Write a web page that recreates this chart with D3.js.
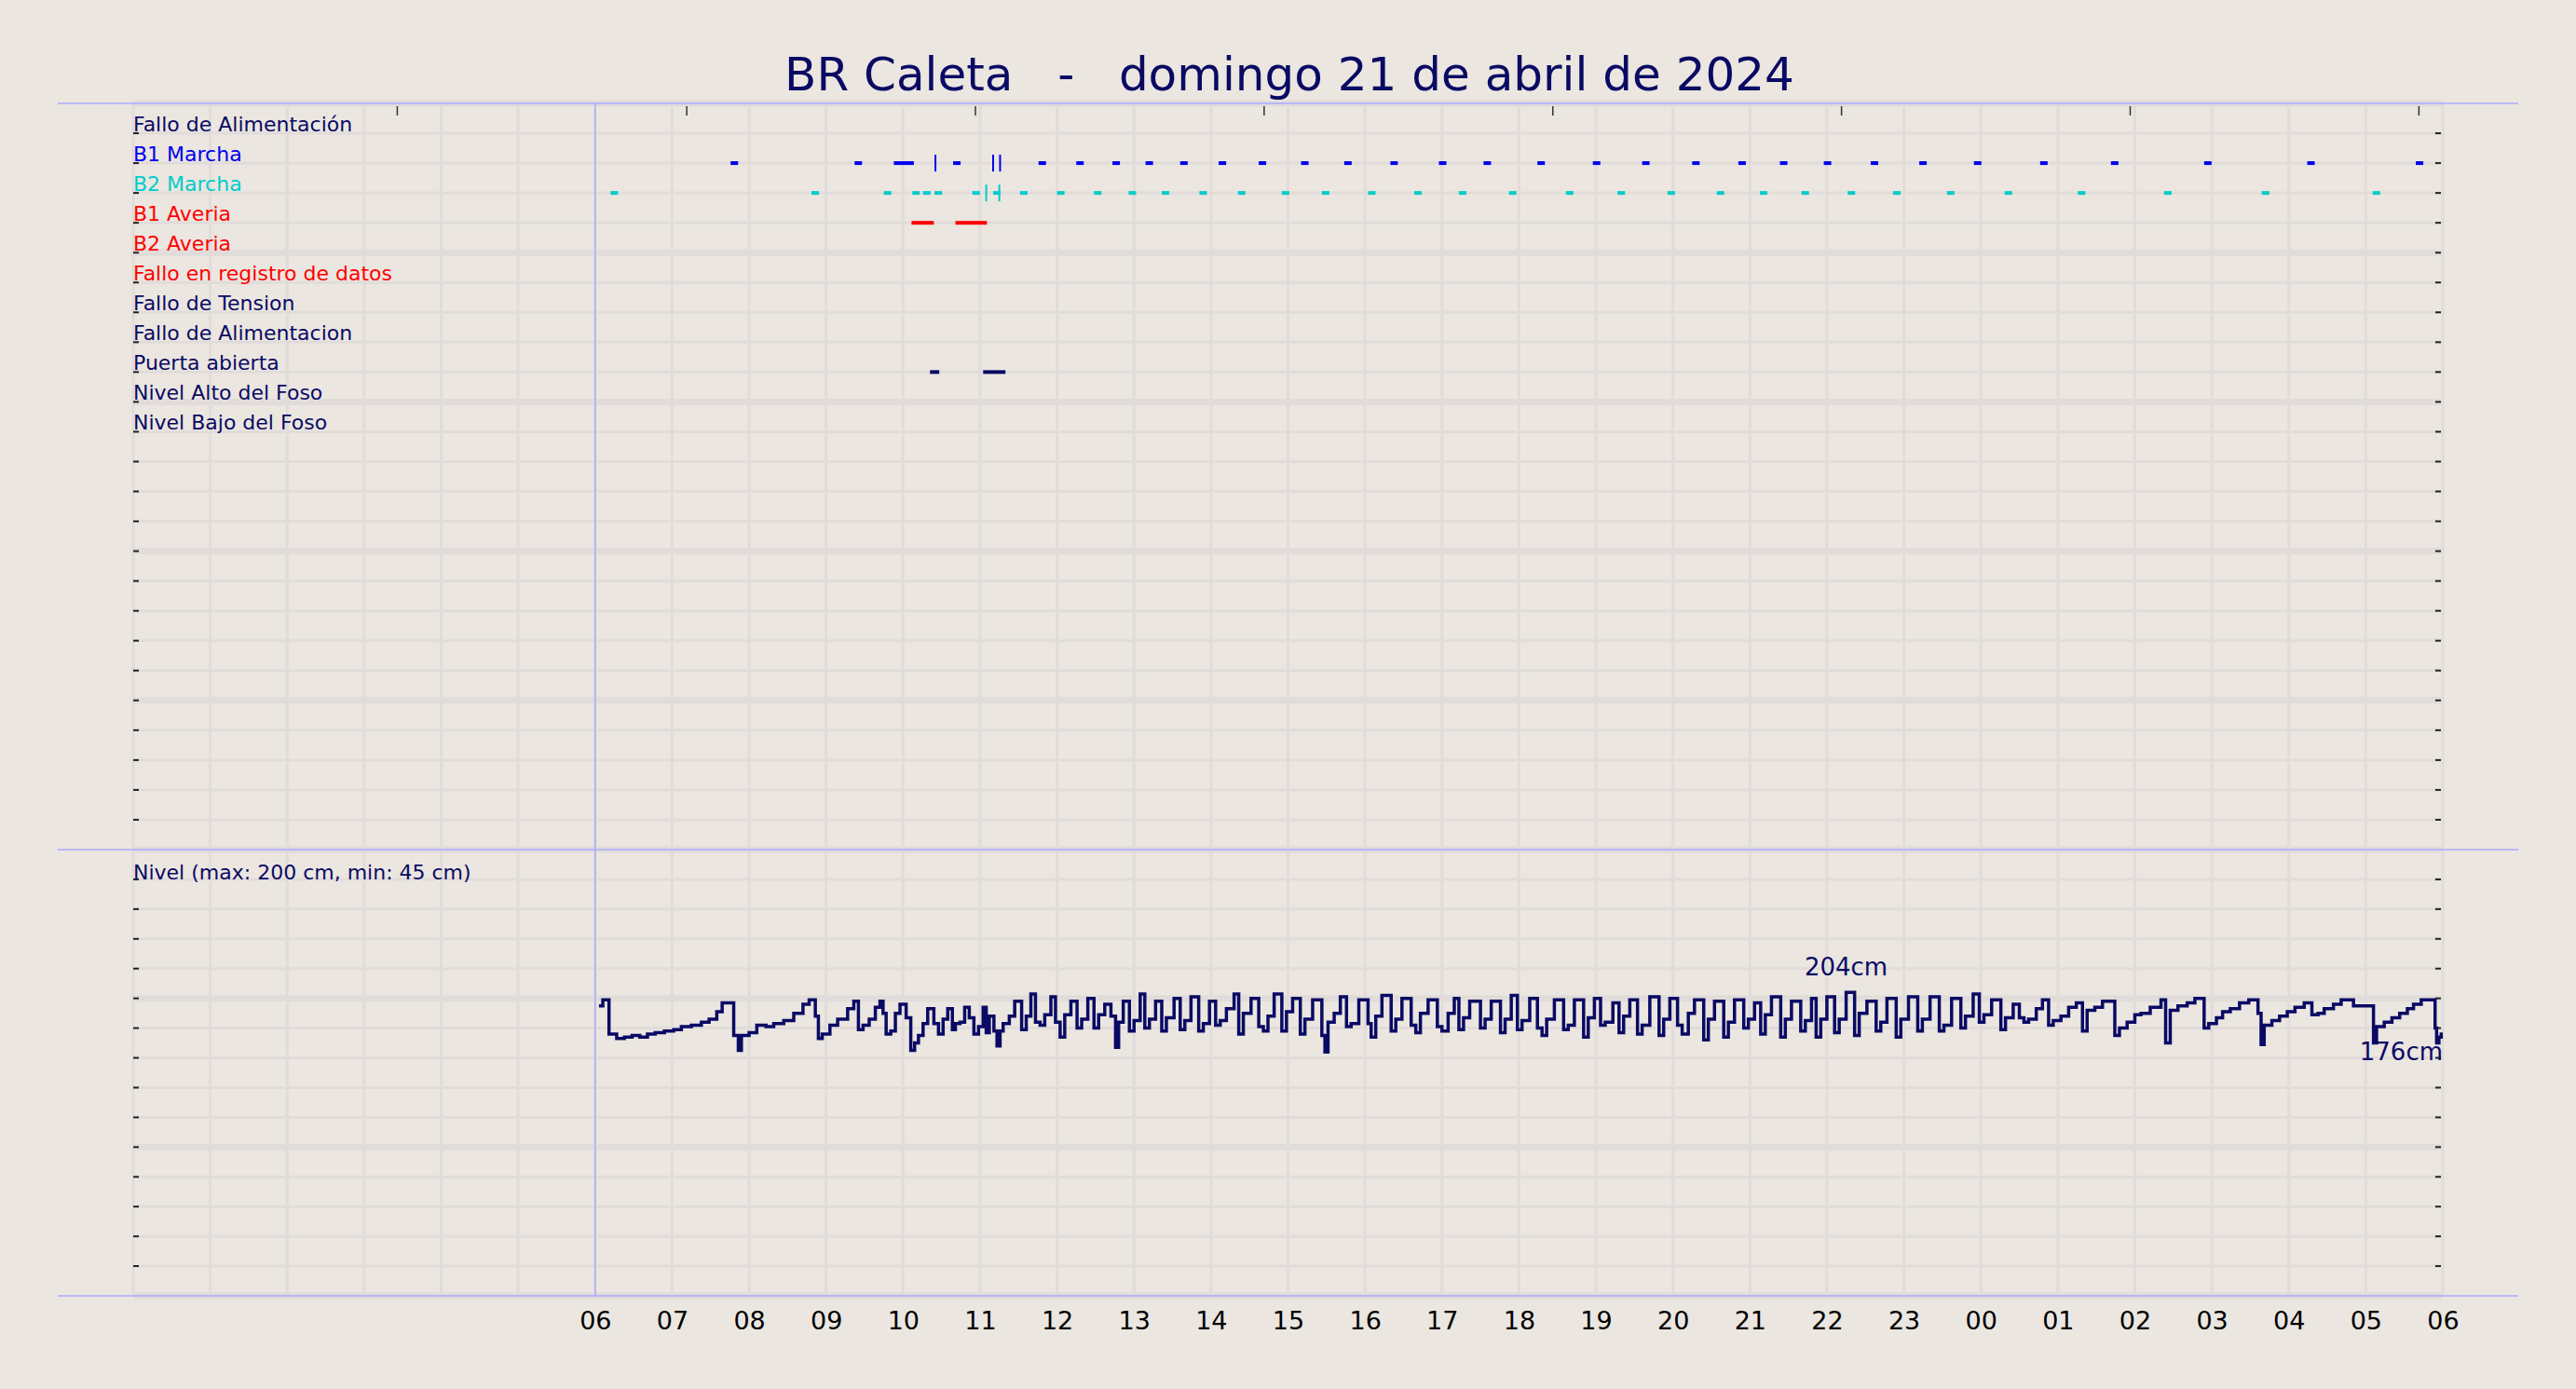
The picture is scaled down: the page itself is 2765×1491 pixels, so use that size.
<!DOCTYPE html>
<html>
<head>
<meta charset="utf-8">
<script src="https://cdn.jsdelivr.net/npm/d3@7"></script>
<style>
  body { margin: 0; background: #ebe6e0; }
  text { font-family: "DejaVu Sans", sans-serif; }
</style>
</head>
<body>
<svg id="chart" width="2765" height="1491"></svg>
<script>
// channel labels, top panel (row 1 = top)
const channels = ["Fallo de Alimentación", "B1 Marcha", "B2 Marcha", "B1 Averia", "B2 Averia",
  "Fallo en registro de datos", "Fallo de Tension", "Fallo de Alimentacion", "Puerta abierta",
  "Nivel Alto del Foso", "Nivel Bajo del Foso"];
const channelColors = ["#0a0a64", "#0000ee", "#00cccc", "#ff0000", "#ff0000", "#ff0000",
  "#0a0a64", "#0a0a64", "#0a0a64", "#0a0a64", "#0a0a64"];

// hour labels (hours from 00:00 of 21 April)
const hourTicks = d3.range(6, 31);
const hourLabels = ["06","07","08","09","10","11","12","13","14","15","16","17","18","19","20","21","22","23","00","01","02","03","04","05","06"];
const topTicks = [3.43, 7.19, 10.94, 14.69, 18.44, 22.19, 25.94, 29.69];

// events: [start hour, end hour]
const b1Marcha = [[7.76,7.84],[9.37,9.44],[9.88,10.14],[10.65,10.70],[11.76,11.81],[12.25,12.30],[12.72,12.77],
  [13.15,13.20],[13.60,13.65],[14.10,14.15],[14.62,14.68],[15.17,15.23],[15.73,15.79],[16.33,16.39],[16.96,17.02],
  [17.54,17.60],[18.24,18.30],[18.96,19.02],[19.60,19.66],[20.25,20.31],[20.85,20.91],[21.39,21.45],[21.96,22.02],
  [22.57,22.63],[23.20,23.26],[23.91,23.97],[24.77,24.83],[25.69,25.75],[26.90,26.95],[28.24,28.30],[29.65,29.71]];
const b1Pulses = [10.42, 11.17, 11.26];
const b2Marcha = [[6.20,6.24],[8.81,8.85],[9.75,9.81],[10.12,10.15],[10.26,10.31],[10.41,10.44],[10.90,10.94],
  [11.17,11.20],[11.52,11.56],[12.00,12.06],[12.48,12.54],[12.93,12.98],[13.36,13.42],[13.85,13.90],[14.35,14.41],
  [14.92,14.97],[15.44,15.50],[16.04,16.10],[16.64,16.70],[17.22,17.28],[17.87,17.93],[18.61,18.66],[19.28,19.33],
  [19.93,19.99],[20.57,20.63],[21.13,21.19],[21.67,21.73],[22.27,22.33],[22.86,22.93],[23.56,23.62],[24.31,24.37],
  [25.26,25.30],[26.38,26.44],[27.65,27.69],[29.09,29.13]];
const b2Pulses = [11.08, 11.25];
const b1Averia = [[10.11,10.40],[10.68,11.09]];
const puertaAbierta = [[10.35,10.47],[11.04,11.33]];

// level (cm): [hour, value], stepped
const nivel = [[6.05,195],[6.10,199],[6.18,176],[6.28,173],[6.38,174],[6.48,175],[6.58,174],[6.68,176],[6.78,177],
  [6.90,178],[7.02,179],[7.12,181],[7.25,182],[7.38,184],[7.48,186],[7.58,191],[7.65,197],[7.75,197],[7.80,175],
  [7.86,165],[7.90,175],[8.00,177],[8.10,182],[8.22,181],[8.32,183],[8.45,185],[8.58,190],[8.70,196],[8.78,199],
  [8.86,188],[8.90,173],[8.95,176],[9.05,182],[9.15,186],[9.28,193],[9.36,198],[9.42,179],[9.48,182],[9.56,186],
  [9.64,194],[9.70,198],[9.74,190],[9.78,176],[9.84,178],[9.90,190],[9.96,196],[10.04,187],[10.10,165],[10.15,170],
  [10.20,175],[10.26,183],[10.32,193],[10.40,183],[10.46,176],[10.52,186],[10.58,193],[10.64,179],[10.68,183],
  [10.74,184],[10.80,194],[10.86,187],[10.92,176],[10.98,181],[11.04,194],[11.08,177],[11.12,188],[11.18,178],
  [11.22,168],[11.26,178],[11.30,183],[11.38,188],[11.45,198],[11.54,179],[11.60,188],[11.66,203],[11.72,184],
  [11.78,182],[11.84,189],[11.92,201],[11.98,184],[12.04,174],[12.10,189],[12.18,198],[12.26,180],[12.32,186],
  [12.40,200],[12.48,180],[12.54,189],[12.62,196],[12.70,188],[12.76,167],[12.80,184],[12.86,198],[12.94,178],
  [13.00,185],[13.08,203],[13.14,180],[13.20,186],[13.28,198],[13.36,178],[13.42,187],[13.52,200],[13.60,179],
  [13.66,185],[13.74,201],[13.84,178],[13.90,183],[13.98,198],[14.06,182],[14.12,185],[14.20,193],[14.30,203],
  [14.36,176],[14.42,190],[14.52,200],[14.62,181],[14.68,178],[14.74,188],[14.82,203],[14.92,178],[14.98,191],
  [15.06,200],[15.16,176],[15.22,186],[15.32,199],[15.44,175],[15.48,164],[15.52,184],[15.60,190],[15.68,201],
  [15.76,181],[15.82,183],[15.92,199],[16.04,183],[16.08,174],[16.14,188],[16.22,202],[16.34,178],[16.40,186],
  [16.48,200],[16.60,182],[16.66,177],[16.72,190],[16.82,199],[16.94,181],[17.00,178],[17.08,190],[17.16,200],
  [17.22,179],[17.28,187],[17.36,198],[17.50,180],[17.56,186],[17.64,198],[17.76,177],[17.82,186],[17.90,202],
  [17.98,179],[18.04,185],[18.14,200],[18.24,180],[18.30,175],[18.36,186],[18.46,199],[18.58,179],[18.64,182],
  [18.72,199],[18.84,174],[18.90,187],[18.98,200],[19.06,182],[19.12,184],[19.22,197],[19.30,177],[19.36,188],
  [19.44,199],[19.54,176],[19.60,182],[19.70,201],[19.82,175],[19.88,186],[19.96,200],[20.06,182],[20.12,176],
  [20.20,190],[20.28,199],[20.40,172],[20.46,186],[20.54,198],[20.66,174],[20.72,184],[20.80,199],[20.92,180],
  [20.98,186],[21.06,197],[21.14,176],[21.20,189],[21.28,201],[21.40,174],[21.46,186],[21.54,198],[21.66,178],
  [21.72,185],[21.80,200],[21.86,174],[21.92,186],[22.00,201],[22.10,177],[22.16,186],[22.25,204],[22.36,175],
  [22.42,190],[22.52,198],[22.64,178],[22.70,184],[22.78,200],[22.90,174],[22.96,186],[23.06,201],[23.18,178],
  [23.24,186],[23.34,201],[23.46,178],[23.52,182],[23.62,200],[23.74,180],[23.80,188],[23.90,203],[23.98,184],
  [24.04,189],[24.14,199],[24.26,179],[24.32,187],[24.42,196],[24.50,187],[24.56,184],[24.62,186],[24.72,193],
  [24.80,199],[24.88,182],[24.94,185],[25.04,188],[25.14,194],[25.24,197],[25.32,178],[25.38,192],[25.48,194],
  [25.58,198],[25.66,198],[25.74,175],[25.80,180],[25.90,184],[26.00,189],[26.08,190],[26.20,194],[26.34,199],
  [26.40,170],[26.46,192],[26.56,195],[26.68,197],[26.78,200],[26.90,180],[26.96,183],[27.06,187],[27.14,191],
  [27.24,193],[27.36,197],[27.48,199],[27.60,190],[27.64,169],[27.68,182],[27.78,185],[27.88,188],[27.98,191],
  [28.08,194],[28.20,197],[28.30,189],[28.38,190],[28.46,193],[28.58,196],[28.68,199],[28.76,199],[28.84,195],
  [29.10,170],[29.14,181],[29.24,184],[29.34,187],[29.44,190],[29.54,193],[29.62,196],[29.72,199],[29.82,199],
  [29.90,180],[29.92,170],[29.95,174],[29.98,176],[30.00,176]];
const peakLabel = [22.25, 204];
const endLabel = [30.00, 176];

const svg = d3.select("#chart");
const W = 2765, H = 1491;
const gridColor = "#e1dcda", frameColor = "#aaaaff", navy = "#0a0a64";

const x = d3.scaleLinear().domain([0, 30]).range([143, 2622]);
const yTop = d3.scaleLinear().domain([0, 25]).range([111, 912]);
const yBot = d3.scaleLinear().domain([300, 0]).range([912, 1391]);

// title
svg.append("text").attr("x", 1384).attr("y", 97).attr("text-anchor", "middle")
  .attr("font-size", 50).attr("fill", navy)
  .attr("xml:space", "preserve")
  .text("BR Caleta   -   domingo 21 de abril de 2024");

const g = svg.append("g");

// vertical hourly grid
g.selectAll("line.vg").data(d3.range(0, 31)).join("line")
  .attr("x1", d => x(d)).attr("x2", d => x(d))
  .attr("y1", 111).attr("y2", 1391)
  .attr("stroke", gridColor).attr("stroke-width", 3);

// horizontal grid, top panel
g.selectAll("line.ht").data(d3.range(0, 26)).join("line")
  .attr("x1", x(0)).attr("x2", x(30))
  .attr("y1", d => yTop(d)).attr("y2", d => yTop(d))
  .attr("stroke", gridColor).attr("stroke-width", d => d % 5 === 0 ? 7 : 3);

// horizontal grid, bottom panel
g.selectAll("line.hb").data(d3.range(0, 301, 20)).join("line")
  .attr("x1", x(0)).attr("x2", x(30))
  .attr("y1", d => yBot(d)).attr("y2", d => yBot(d))
  .attr("stroke", gridColor).attr("stroke-width", d => d % 100 === 0 ? 7 : 3);

// frame lines
[111, 912, 1391].forEach(yy => {
  g.append("line").attr("x1", 62).attr("x2", 2703).attr("y1", yy).attr("y2", yy)
    .attr("stroke", frameColor).attr("stroke-width", 1.5);
});
g.append("line").attr("x1", x(6)).attr("x2", x(6)).attr("y1", 111).attr("y2", 1391)
  .attr("stroke", frameColor).attr("stroke-width", 1.5);

// small tick dashes left & right
const rowTicks = d3.range(1, 25).map(d => yTop(d)).concat(d3.range(20, 300, 20).map(d => yBot(d)));
g.selectAll("line.lt").data(rowTicks).join("line")
  .attr("x1", x(0)).attr("x2", x(0) + 6).attr("y1", d => d).attr("y2", d => d)
  .attr("stroke", "#222").attr("stroke-width", 2);
g.selectAll("line.rt").data(rowTicks).join("line")
  .attr("x1", x(30) - 8).attr("x2", x(30) - 2).attr("y1", d => d).attr("y2", d => d)
  .attr("stroke", "#222").attr("stroke-width", 2);

// top small ticks
g.selectAll("line.tt").data(topTicks).join("line")
  .attr("x1", d => x(d)).attr("x2", d => x(d)).attr("y1", 114).attr("y2", 124)
  .attr("stroke", "#333").attr("stroke-width", 1.5);

// channel labels
g.selectAll("text.ch").data(channels).join("text")
  .attr("x", x(0)).attr("y", (d, i) => yTop(i + 1) - 2)
  .attr("font-size", 22).attr("fill", (d, i) => channelColors[i])
  .text(d => d);

// event bars
function drawBars(data, row, color, h) {
  g.selectAll(null).data(data).join("rect")
    .attr("x", d => x(d[0])).attr("width", d => Math.max(8, x(d[1]) - x(d[0])))
    .attr("y", yTop(row) - h / 2).attr("height", h)
    .attr("fill", color);
}
function drawPulses(data, row, color) {
  g.selectAll(null).data(data).join("line")
    .attr("x1", d => x(d)).attr("x2", d => x(d))
    .attr("y1", yTop(row) - 9).attr("y2", yTop(row) + 9)
    .attr("stroke", color).attr("stroke-width", 2);
}
drawBars(b1Marcha, 2, "#0000ee", 4);
drawPulses(b1Pulses, 2, "#0000ee");
drawBars(b2Marcha, 3, "#00cccc", 4);
drawPulses(b2Pulses, 3, "#00cccc");
drawBars(b1Averia, 4, "#ff0000", 4);
drawBars(puertaAbierta, 9, navy, 4);

// level panel
g.append("text").attr("x", x(0)).attr("y", 944).attr("font-size", 22).attr("fill", navy)
  .text("Nivel (max: 200 cm, min: 45 cm)");

const line = d3.line().x(d => x(d[0])).y(d => yBot(d[1])).curve(d3.curveStepAfter);
g.append("path").datum(nivel).attr("d", line)
  .attr("fill", "none").attr("stroke", navy).attr("stroke-width", 3.5);

g.append("text").attr("x", x(peakLabel[0])).attr("y", yBot(peakLabel[1]) - 18)
  .attr("text-anchor", "middle").attr("font-size", 26).attr("fill", navy).text(peakLabel[1] + "cm");
g.append("text").attr("x", x(endLabel[0])).attr("y", yBot(endLabel[1]) + 28)
  .attr("text-anchor", "end").attr("font-size", 26).attr("fill", navy).text(endLabel[1] + "cm");

// x axis labels
const xAxis = d3.axisBottom(x).tickValues(hourTicks).tickSize(0)
  .tickFormat((d, i) => hourLabels[i]);
const ax = svg.append("g").attr("transform", "translate(0,1400)").call(xAxis);
ax.select(".domain").remove();
ax.selectAll("text").attr("font-size", 27).attr("fill", "#000")
  .style("font-family", "DejaVu Sans").attr("dy", "0.9em");
</script>
</body>
</html>
